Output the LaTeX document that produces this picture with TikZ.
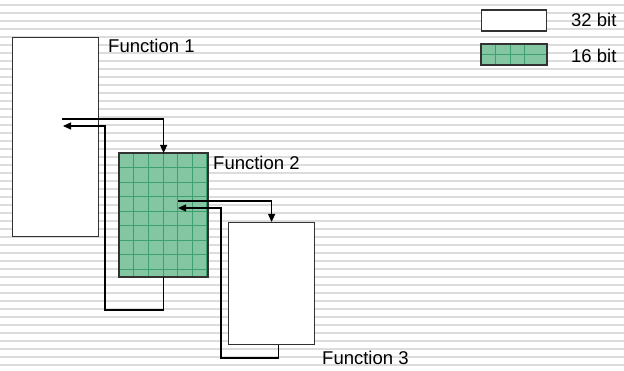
\documentclass[tikz,border=0pt]{standalone}
\usepackage{fontspec}
\setmainfont{Liberation Sans}
\usetikzlibrary{arrows.meta}

\definecolor{stripe}{RGB}{220,220,220}
\definecolor{boxline}{RGB}{50,50,50}
\definecolor{shortfill}{RGB}{132,197,162}
\definecolor{shortgrid}{RGB}{62,160,112}

\tikzset{
  fbox/.style={draw=boxline, line width=1.2pt, fill=white, inner sep=0pt, anchor=north west},
  gbox/.style={fbox, fill=shortfill},
  lbl/.style={anchor=base west, inner sep=0pt, font=\fontsize{18.5}{20}\selectfont},
  link/.style={draw=black, line width=1.1pt},
  calltip/.style={link, -{Triangle[length=8pt,width=7pt]}},
}

\begin{document}
\begin{tikzpicture}[x=1pt, y=-1pt]
  \useasboundingbox (0,0) rectangle (624,371);
  % striped backdrop
  \fill[white] (0,0) rectangle (624,371);
  \foreach \k in {0,...,46} {
    \fill[stripe] (0,{3.8+8*\k}) rectangle (624,{6.3+8*\k});
  }

  % routine boxes
  \node[fbox, minimum width=86pt, minimum height=199pt] (f1) at (12,37) {};
  \node[gbox, minimum width=88pt, minimum height=123pt] (f2) at (119,153) {};
  \node[fbox, minimum width=86pt, minimum height=122pt] (f3) at (228,222) {};

  % cell grid on the 16-bit routine
  \begin{scope}
    \clip (f2.north west) rectangle (f2.south east);
    \foreach \i in {1,...,6} \draw[shortgrid, line width=0.6pt] ({119+14.6*\i},153) -- ({119+14.6*\i},276);
    \foreach \j in {1,...,8} \draw[shortgrid, line width=0.6pt] (119,{153+14.5*\j}) -- (207,{153+14.5*\j});
  \end{scope}
  \draw[draw=boxline, line width=1.2pt] (f2.north west) rectangle (f2.south east);

  \node[lbl] (t1) at (108,53) {Function 1};
  \node[lbl] (t2) at (213,170) {Function 2};
  \node[lbl] (t3) at (322,365) {Function 3};

  % legend
  \node[fbox, minimum width=65pt, minimum height=21pt] (k32) at (481,9.5) {};
  \node[gbox, minimum width=65pt, minimum height=20pt] (k16) at (481,44) {};
  \begin{scope}
    \clip (k16.north west) rectangle (k16.south east);
    \foreach \i in {1,2,3} \draw[shortgrid, line width=0.6pt] ({481+14.5*\i},44) -- ({481+14.5*\i},64);
    \draw[shortgrid, line width=0.6pt] (481,54) -- (546,54);
  \end{scope}
  \draw[draw=boxline, line width=1.2pt] (k16.north west) rectangle (k16.south east);
  \node[lbl] (t32) at (571,26.7) {32 bit};
  \node[lbl] (t16) at (571,62.5) {16 bit};

  % call and return paths
  \coordinate (c1) at (62,119);
  \coordinate (r1) at (63,126);
  \coordinate (c2) at (178,201);
  \coordinate (r2) at (178,208);

  \draw[calltip] (c1) -| (f2.north);
  \draw[calltip] (f2.south) |- (105,310) |- (r1);
  \draw[calltip] (c2) -| (f3.north);
  \draw[calltip] ([xshift=7pt]f3.south) |- (221,358) |- (r2);
\end{tikzpicture}
\end{document}
